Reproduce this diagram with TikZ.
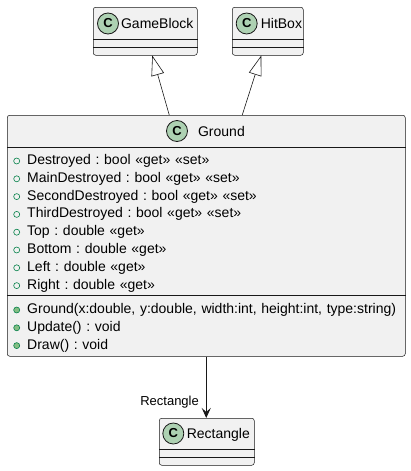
\documentclass[tikz,border=0pt]{standalone}
\usepackage{fontspec}
\setmainfont{Liberation Sans}
\usepackage{tikz}
\usetikzlibrary{arrows.meta, positioning, chains}
\frenchspacing
\definecolor{boxfill}{HTML}{F1F1F1}
\definecolor{boxline}{HTML}{181818}
\definecolor{iconfill}{HTML}{ADD1B2}
\definecolor{publine}{HTML}{038048}
\definecolor{pubfill}{HTML}{84BE84}
\tikzset{
  classbox/.style={
    rectangle,
    rounded corners=2.5pt,
    fill=boxfill,
    draw=boxline, line width=0.5pt,
    inner sep=0pt},
  classicon/.style={
    circle,
    fill=iconfill,
    draw=boxline, line width=0.8pt,
    minimum size=21pt, inner sep=0pt,
    font=\fontsize{13}{13}\selectfont\bfseries},
  classname/.style={
    inner sep=0pt,
    text height=10pt, text depth=0pt,
    font=\fontsize{14}{16}\selectfont},
  member/.style={
    inner sep=0pt,
    text width=375pt,
    text height=10pt, text depth=3pt,
    minimum height=17.4pt,
    align=left,
    font=\fontsize{14}{16}\selectfont,
    on chain},
  field/.style={member,
    label={[circle, draw=publine, line width=0.6pt, minimum size=6pt,
            inner sep=0pt, label distance=7pt]left:{}}},
  method/.style={member,
    label={[circle, draw=publine, fill=pubfill, line width=0.6pt, minimum size=6pt,
            inner sep=0pt, label distance=7pt]left:{}}},
  separator/.style={draw=boxline, line width=0.5pt},
  extends/.style={draw=boxline, line width=0.6pt,
    -{Triangle[open, fill=white, length=20pt, width=13pt]}},
  uses/.style={draw=boxline, line width=0.8pt,
    -{Stealth[length=10pt, width=9pt, inset=4pt]}},
  edgelabel/.style={inner sep=0pt, font=\fontsize{13}{15}\selectfont},
}
\begin{document}
\begin{tikzpicture}[x=1pt, y=-1pt, node distance=0pt]
  \useasboundingbox (0,0) rectangle (411,471);

  % parent classes
  \node[classbox, anchor=north west, minimum width=104pt, minimum height=48pt] (GameBlock) at (93,7) {};
  \node[classicon] (GameBlockIcon) at (108,23.5) {C};
  \node[classname, right=2pt of GameBlockIcon] (GameBlockTitle) {GameBlock};
  \draw[separator] ([yshift=-32pt]GameBlock.north west) -- ([yshift=-32pt]GameBlock.north east);
  \draw[separator] ([yshift=-40pt]GameBlock.north west) -- ([yshift=-40pt]GameBlock.north east);

  \node[classbox, anchor=north west, minimum width=71pt, minimum height=48pt] (HitBox) at (232,7) {};
  \node[classicon] (HitBoxIcon) at (246.7,23.5) {C};
  \node[classname, right=3pt of HitBoxIcon] (HitBoxTitle) {HitBox};
  \draw[separator] ([yshift=-32pt]HitBox.north west) -- ([yshift=-32pt]HitBox.north east);
  \draw[separator] ([yshift=-40pt]HitBox.north west) -- ([yshift=-40pt]HitBox.north east);

  % Ground
  \node[classbox, anchor=north west, minimum width=398pt, minimum height=241pt] (Ground) at (7,115) {};
  \node[classicon] (GroundIcon) at (177,131) {C};
  \node[classname, right=10pt of GroundIcon] (GroundTitle) {Ground};
  \draw[separator] ([yshift=-32pt]Ground.north west) -- ([yshift=-32pt]Ground.north east);
  \draw[separator] ([yshift=-180pt]Ground.north west) -- ([yshift=-180pt]Ground.north east);

  \begin{scope}[start chain=fields going below]
    \node[field, anchor=west] (Destroyed) at (27,161) {Destroyed : bool «get» «set»};
    \node[field] (MainDestroyed)   {MainDestroyed : bool «get» «set»};
    \node[field] (SecondDestroyed) {SecondDestroyed : bool «get» «set»};
    \node[field] (ThirdDestroyed)  {ThirdDestroyed : bool «get» «set»};
    \node[field] (Top)             {Top : double «get»};
    \node[field] (Bottom)          {Bottom : double «get»};
    \node[field] (Left)            {Left : double «get»};
    \node[field] (Right)           {Right : double «get»};
  \end{scope}
  \begin{scope}[start chain=methods going below]
    \node[method, anchor=west] (GroundCtor) at (27,310) {Ground(x:double, y:double, width:int, height:int, type:string)};
    \node[method] (Update) {Update() : void};
    \node[method] (Draw)   {Draw() : void};
  \end{scope}

  % Rectangle
  \node[classbox, anchor=north west, minimum width=95pt, minimum height=47pt] (Rectangle) at (159,418) {};
  \node[classicon] (RectangleIcon) at (173.3,433.5) {C};
  \node[classname, right=2.4pt of RectangleIcon] (RectangleTitle) {Rectangle};
  \draw[separator] ([yshift=-31.5pt]Rectangle.north west) -- ([yshift=-31.5pt]Rectangle.north east);
  \draw[separator] ([yshift=-39.5pt]Rectangle.north west) -- ([yshift=-39.5pt]Rectangle.north east);

  % relations
  \draw[extends] ([xshift=-37pt]Ground.north) -- ([xshift=7pt]GameBlock.south);
  \draw[extends] ([xshift=36pt]Ground.north) -- ([xshift=-6.5pt]HitBox.south);
  \draw[uses] (Ground.south) -- node[pos=0.74, left=7pt, edgelabel] {Rectangle} (Ground.south |- Rectangle.north);
\end{tikzpicture}
\end{document}
